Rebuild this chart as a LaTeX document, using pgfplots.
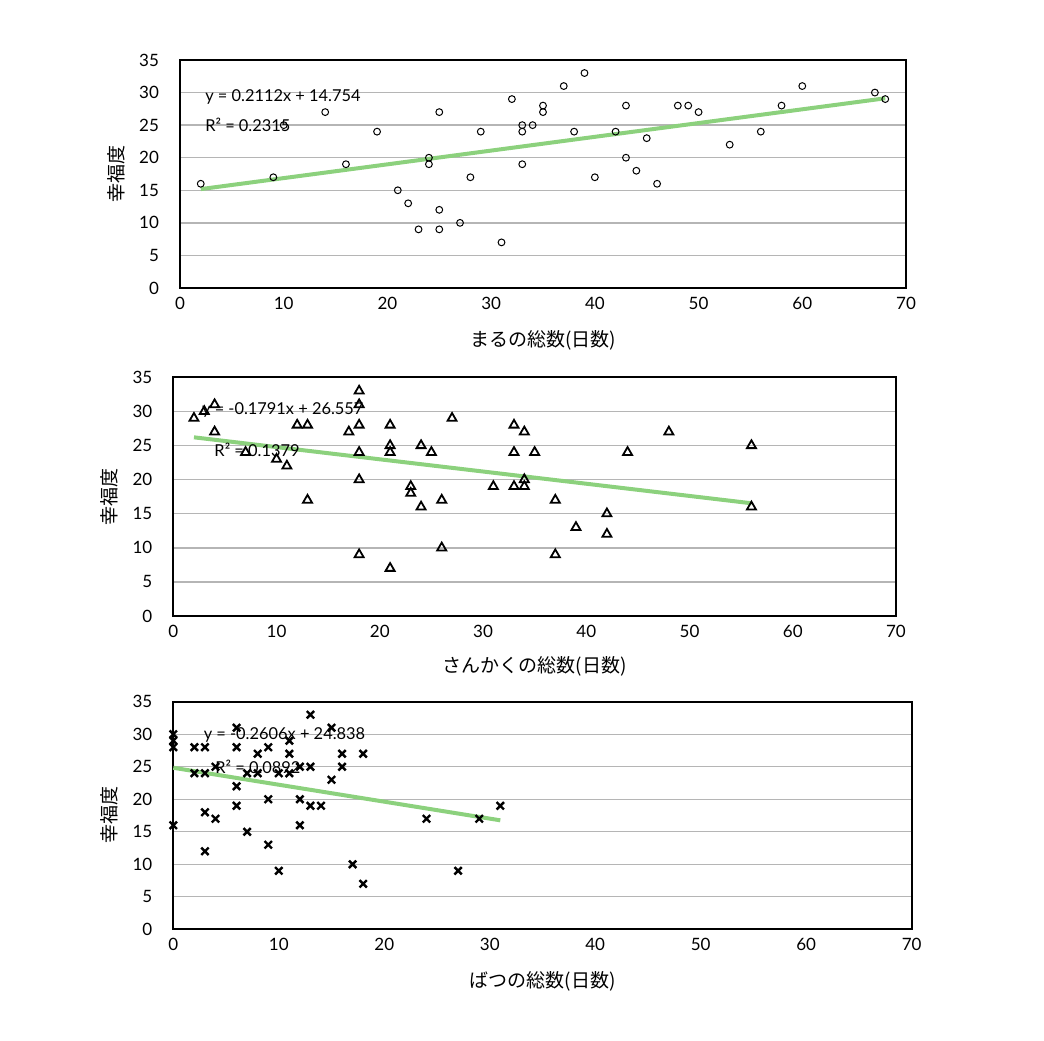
\documentclass[border=0pt]{standalone}
\usepackage{fontspec}
\setmainfont{Lato}
\newfontfamily\jp{Noto Sans CJK JP}
\usepackage{pgfplots}
\pgfplotsset{compat=1.18}
\definecolor{trend}{HTML}{8CD17D}
\definecolor{gridgray}{HTML}{B5B5B5}

\pgfplotsset{
  panel/.style={
    scale only axis,
    clip=false,
    xmin=0, xmax=70, ymin=0, ymax=35,
    xtick={0,10,...,70}, ytick={0,5,...,35},
    axis line style={black, line width=1pt},
    major tick length=0pt,
    ymajorgrids, grid style={gridgray, line width=0.7pt},
    tick label style={font=\fontsize{8.5}{10}\selectfont},
    /pgf/number format/assume math mode=true,
    yticklabel style={xshift=-7pt},
    xticklabel style={yshift=-1pt},
  },
}
\tikzset{eqn/.style={anchor=west, font=\fontsize{8.2}{9}\selectfont, inner sep=0pt}}

\begin{document}
\begin{tikzpicture}
\path (0,0) rectangle (522pt,520pt);

% --- panel 1: circles
\begin{axis}[panel, at={(90pt,376pt)}, anchor=south west, width=363pt, height=114pt]
\addplot[only marks, mark=o, mark size=1.7pt, mark options={black, line width=0.5pt}] coordinates {
(2,16) (9,17) (10,25) (14,27) (16,19) (19,24) (21,15) (22,13) (23,9)
(24,20) (24,19) (25,27) (25,12) (25,9) (27,10) (28,17) (29,24) (31,7)
(32,29) (33,25) (33,24) (33,19) (34,25) (35,28) (35,27) (37,31) (38,24)
(39,33) (40,17) (42,24) (43,28) (43,20) (44,18) (45,23) (46,16) (48,28)
(49,28) (50,27) (53,22) (56,24) (58,28) (60,31) (67,30) (68,29)
};
\addplot[trend, line width=2pt] coordinates {(2,15.18) (68,29.12)};
\node[eqn] at (axis cs:2.4,29.3) {y = 0.2112x + 14.754};
\node[eqn] at (axis cs:2.4,25.0) {R² = 0.2315};
\end{axis}

% --- panel 2: triangles
\begin{axis}[panel, at={(86.65pt,212pt)}, anchor=south west, width=361.35pt, height=119.35pt]
\addplot[only marks, mark=triangle, mark size=2.6pt, mark options={black, line width=0.9pt}] coordinates {
(2,29) (3,30) (4,31) (4,27) (7,24) (10,23) (11,22) (12,28) (13,28) (13,17)
(17,27) (18,33) (18,31) (18,28) (18,24) (18,20) (18,9) (21,28) (21,25)
(21,24) (21,7) (23,19) (23,18) (24,25) (24,16) (25,24) (26,17) (26,10)
(27,29) (31,19) (33,28) (33,24) (33,19) (34,27) (34,20) (34,19) (35,24)
(37,17) (37,9) (39,13) (42,15) (42,12) (44,24) (48,27) (56,25) (56,16)
};
\addplot[trend, line width=2pt] coordinates {(2,26.20) (56,16.53)};
\node[eqn] at (axis cs:2.75,30.2) {y = -0.1791x + 26.557};
\node[eqn] at (axis cs:3.95,24.3) {R² = 0.1379};
\end{axis}

% --- panel 3: crosses
\begin{axis}[panel, at={(86.65pt,55.35pt)}, anchor=south west, width=369.2pt, height=113.8pt]
\addplot[only marks, mark=x, mark size=2.6pt, mark options={black, line width=1.2pt}] coordinates {
(0,30) (0,29) (0,28) (0,16) (2,28) (3,28) (2,24) (3,24) (4,25) (3,18)
(4,17) (3,12) (6,31) (6,28) (6,22) (6,19) (7,24) (7,15) (8,27) (8,24)
(9,28) (9,20) (9,13) (10,24) (10,9) (11,29) (11,27) (11,24) (12,25)
(12,20) (12,16) (13,33) (13,25) (13,19) (14,19) (15,31) (15,23) (16,27)
(16,25) (17,10) (18,27) (18,7) (24,17) (27,9) (29,17) (31,19)
};
\addplot[trend, line width=2pt] coordinates {(0,24.84) (31,16.76)};
\node[eqn] at (axis cs:2.85,29.9) {y = -0.2606x + 24.838};
\node[eqn] at (axis cs:3.95,25.0) {R² = 0.0892};
\end{axis}

% axis titles
\node[rotate=90, font=\jp\fontsize{9.5}{10}\selectfont] at (58pt,433pt) {幸福度};
\node[font=\jp\fontsize{9.5}{10}\selectfont] at (271.5pt,350pt) {まるの総数(日数)};
\node[rotate=90, font=\jp\fontsize{9.5}{10}\selectfont] at (54.5pt,271.5pt) {幸福度};
\node[font=\jp\fontsize{9.5}{10}\selectfont] at (267.35pt,187pt) {さんかくの総数(日数)};
\node[rotate=90, font=\jp\fontsize{9.5}{10}\selectfont] at (54.5pt,112.5pt) {幸福度};
\node[font=\jp\fontsize{9.5}{10}\selectfont] at (271.25pt,29.5pt) {ばつの総数(日数)};
\end{tikzpicture}
\end{document}
